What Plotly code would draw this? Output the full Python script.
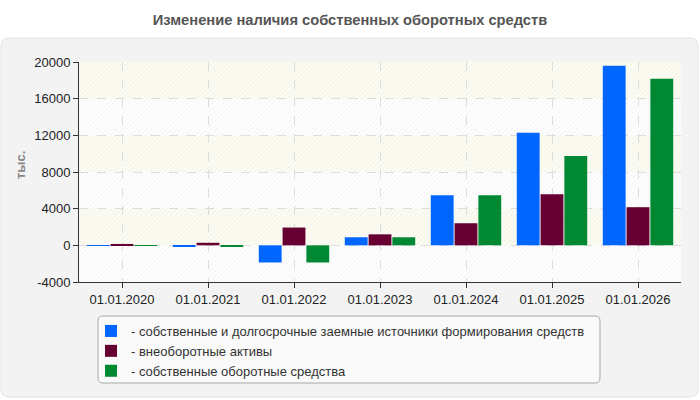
import plotly.graph_objects as go

categories = ["01.01.2020", "01.01.2021", "01.01.2022", "01.01.2023", "01.01.2024", "01.01.2025", "01.01.2026"]
own_longterm = [-60, -150, -1870, 880, 5470, 12270, 19600]
noncurrent = [150, 280, 1940, 1200, 2410, 5580, 4160]
own_working = [-50, -170, -1870, 880, 5470, 9750, 18180]
series_names = [
    "- собственные и долгосрочные заемные источники формирования средств",
    "- внеоборотные активы",
    "- собственные оборотные средства",
]
colors = ["#0066ff", "#660033", "#008833"]
y_ticks = [-4000, 0, 4000, 8000, 12000, 16000, 20000]
y_tick_labels = ["-4000", "0", "4000", "8000", "12000", "16000", "20000"]

W, H = 700, 400
ML, MR, MT, MB = 79, 19, 62, 118
PW, PH = W - ML - MR, H - MT - MB


def px(x):
    return (x - ML) / PW


def py(y):
    return (H - MB - y) / PH


def rounded_rect(x0, y0, x1, y1, r):
    pts = []
    pts.append(f"M{px(x0 + r)},{py(y0)}")
    pts.append(f"L{px(x1 - r)},{py(y0)}")
    pts.append(f"Q{px(x1)},{py(y0)} {px(x1)},{py(y0 + r)}")
    pts.append(f"L{px(x1)},{py(y1 - r)}")
    pts.append(f"Q{px(x1)},{py(y1)} {px(x1 - r)},{py(y1)}")
    pts.append(f"L{px(x0 + r)},{py(y1)}")
    pts.append(f"Q{px(x0)},{py(y1)} {px(x0)},{py(y1 - r)}")
    pts.append(f"L{px(x0)},{py(y0 + r)}")
    pts.append(f"Q{px(x0)},{py(y0)} {px(x0 + r)},{py(y0)}")
    pts.append("Z")
    return " ".join(pts)


fig = go.Figure()
for name, vals, c in zip(series_names, [own_longterm, noncurrent, own_working], colors):
    fig.add_trace(go.Bar(x=categories, y=vals, name=name, marker=dict(color=c, line=dict(width=0))))

shapes = []
shapes.append(dict(type="path", xref="paper", yref="paper", layer="below",
                   path=rounded_rect(1, 38, 698, 397, 8),
                   fillcolor="#f3f3f3", line=dict(color="#e2e2e2", width=1)))
shapes.append(dict(type="rect", xref="paper", yref="paper", layer="below",
                   x0=0, x1=1, y0=0, y1=1, fillcolor="#fdfdfd", line=dict(width=0)))
for b0 in [0, 8000, 16000]:
    shapes.append(dict(type="rect", xref="paper", yref="y", layer="below",
                       x0=0, x1=1, y0=b0, y1=b0 + 4000, fillcolor="#fbfbf2", line=dict(width=0)))
segs = []
x0p, x1p, y0p, y1p = ML, W - MR, MT, H - MB
c = x0p + y0p
while c < x1p + y1p:
    xa = max(x0p, c - y1p)
    xb = min(x1p, c - y0p)
    if xb > xa:
        segs.append(f"M{px(xa)},{py(c - xa)}L{px(xb)},{py(c - xb)}")
    c += 5
shapes.append(dict(type="path", xref="paper", yref="paper", layer="below",
                   path="".join(segs), line=dict(color="rgba(0,0,0,0.035)", width=1)))
shapes.append(dict(type="path", xref="paper", yref="paper", layer="below",
                   path=rounded_rect(98, 316, 600, 383, 5),
                   fillcolor="#fafafa", line=dict(color="#a8a8a8", width=1)))

fig.update_layout(
    width=W, height=H,
    margin=dict(l=ML, r=MR, t=MT, b=MB),
    paper_bgcolor="white",
    plot_bgcolor="rgba(0,0,0,0)",
    barmode="group", bargap=0.17, bargroupgap=0.04,
    font=dict(family="Liberation Sans, Arial, sans-serif", size=13, color="#222"),
    title=dict(text="<b>Изменение наличия собственных оборотных средств</b>",
               x=0.5, xref="container", xanchor="center", y=1 - 20 / H, yanchor="middle",
               font=dict(size=14.7, color="#555")),
    shapes=shapes,
    showlegend=True,
    legend=dict(x=px(91), xanchor="left", y=py(316), yanchor="top",
                bgcolor="rgba(0,0,0,0)", borderwidth=0,
                font=dict(size=13, color="#333"), tracegroupgap=0,
                itemclick=False),
    annotations=[dict(text="<b>тыс.</b>", xref="paper", yref="paper", x=px(20), y=py(165),
                      xanchor="center", yanchor="middle",
                      textangle=-90, showarrow=False, font=dict(size=13, color="#888"))],
)
fig.update_xaxes(showline=True, linecolor="#333", linewidth=1, ticks="outside", ticklen=5,
                 tickcolor="#333", showgrid=True, gridcolor="#dddddd", griddash="dash",
                 tickfont=dict(size=13, color="#222"), mirror=False)
fig.update_yaxes(range=[-4000, 20000], tickvals=y_ticks, ticktext=y_tick_labels, showline=True,
                 linecolor="#333", linewidth=1, ticks="outside", ticklen=5, tickcolor="#333",
                 showgrid=True, gridcolor="#dddddd", griddash="dash", zeroline=False,
                 tickfont=dict(size=13, color="#222"))

fig.write_html("out.html")
